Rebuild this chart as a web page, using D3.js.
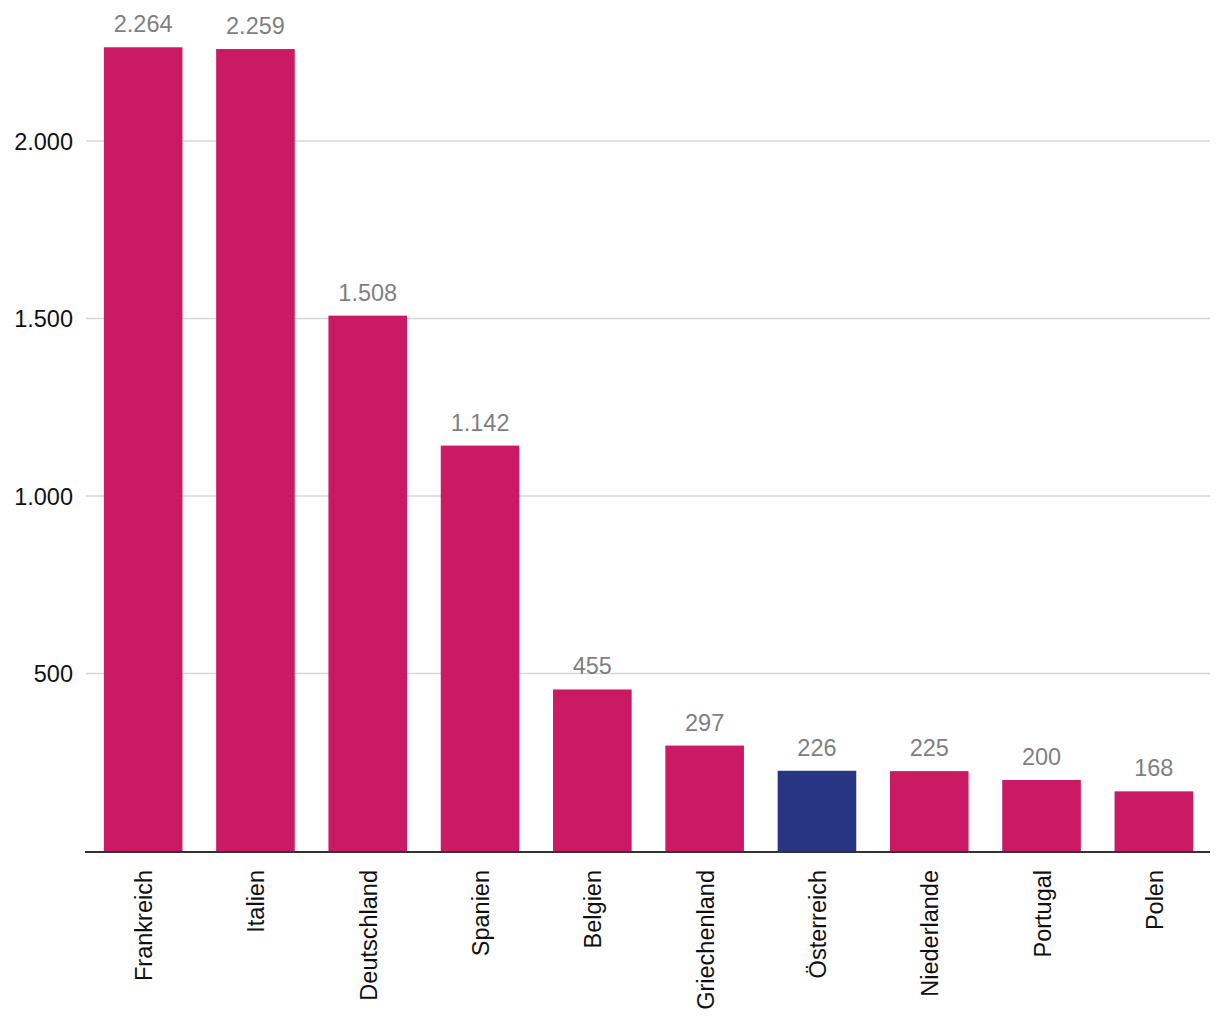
<!DOCTYPE html>
<html>
<head>
<meta charset="utf-8">
<script src="https://cdn.jsdelivr.net/npm/d3@7"></script>
<style>
  html, body { margin: 0; padding: 0; background: #fff; }
  svg { display: block; font-family: "Liberation Sans", Arial, sans-serif; }
</style>
</head>
<body>
<svg id="chart" width="1220" height="1020"></svg>
<script>
const categories = ["Frankreich", "Italien", "Deutschland", "Spanien", "Belgien", "Griechenland", "Österreich", "Niederlande", "Portugal", "Polen"];
const values = [2264, 2259, 1508, 1142, 455, 297, 226, 225, 200, 168];
const highlight = ["Österreich"];
const yTicks = [500, 1000, 1500, 2000];

const svg = d3.select("#chart");
const fmt = d3.formatLocale({ decimal: ",", thousands: ".", grouping: [3], currency: ["", "€"] }).format(",d");

const x = d3.scaleBand().domain(categories).range([87, 1210]).paddingInner(0.3).paddingOuter(0.15);
const y = d3.scaleLinear().domain([0, 2000]).range([851, 141]);

// gridlines
svg.append("g").selectAll("line").data(yTicks).join("line")
  .attr("x1", 86).attr("x2", 1210)
  .attr("y1", d => y(d)).attr("y2", d => y(d))
  .attr("stroke", "#d6d6d6").attr("stroke-width", 1.5);

// y tick labels
svg.append("g").selectAll("text").data(yTicks).join("text")
  .attr("x", 73).attr("y", d => y(d) + 8.5)
  .attr("text-anchor", "end")
  .attr("font-size", 23.5)
  .attr("fill", "#111")
  .text(d => fmt(d));

// bars
svg.append("g").selectAll("rect").data(categories).join("rect")
  .attr("x", d => x(d))
  .attr("width", x.bandwidth())
  .attr("y", (d, i) => y(values[i]))
  .attr("height", (d, i) => y(0) - y(values[i]))
  .attr("fill", d => highlight.includes(d) ? "#283583" : "#ca1a63");

// value labels
svg.append("g").selectAll("text").data(categories).join("text")
  .attr("x", d => x(d) + x.bandwidth() / 2)
  .attr("y", (d, i) => y(values[i]) - 15)
  .attr("text-anchor", "middle")
  .attr("font-size", 23.5)
  .attr("fill", "#7f7f7f")
  .text((d, i) => fmt(values[i]));

// baseline axis
svg.append("line")
  .attr("x1", 85).attr("x2", 1210)
  .attr("y1", y(0) + 1).attr("y2", y(0) + 1)
  .attr("stroke", "#333").attr("stroke-width", 2);

// category labels
svg.append("g").selectAll("text").data(categories).join("text")
  .attr("transform", d => `translate(${x(d) + x.bandwidth() / 2 + 9},870) rotate(-90)`)
  .attr("text-anchor", "end")
  .attr("font-size", 23.5)
  .attr("fill", "#111")
  .text(d => d);
</script>
</body>
</html>
